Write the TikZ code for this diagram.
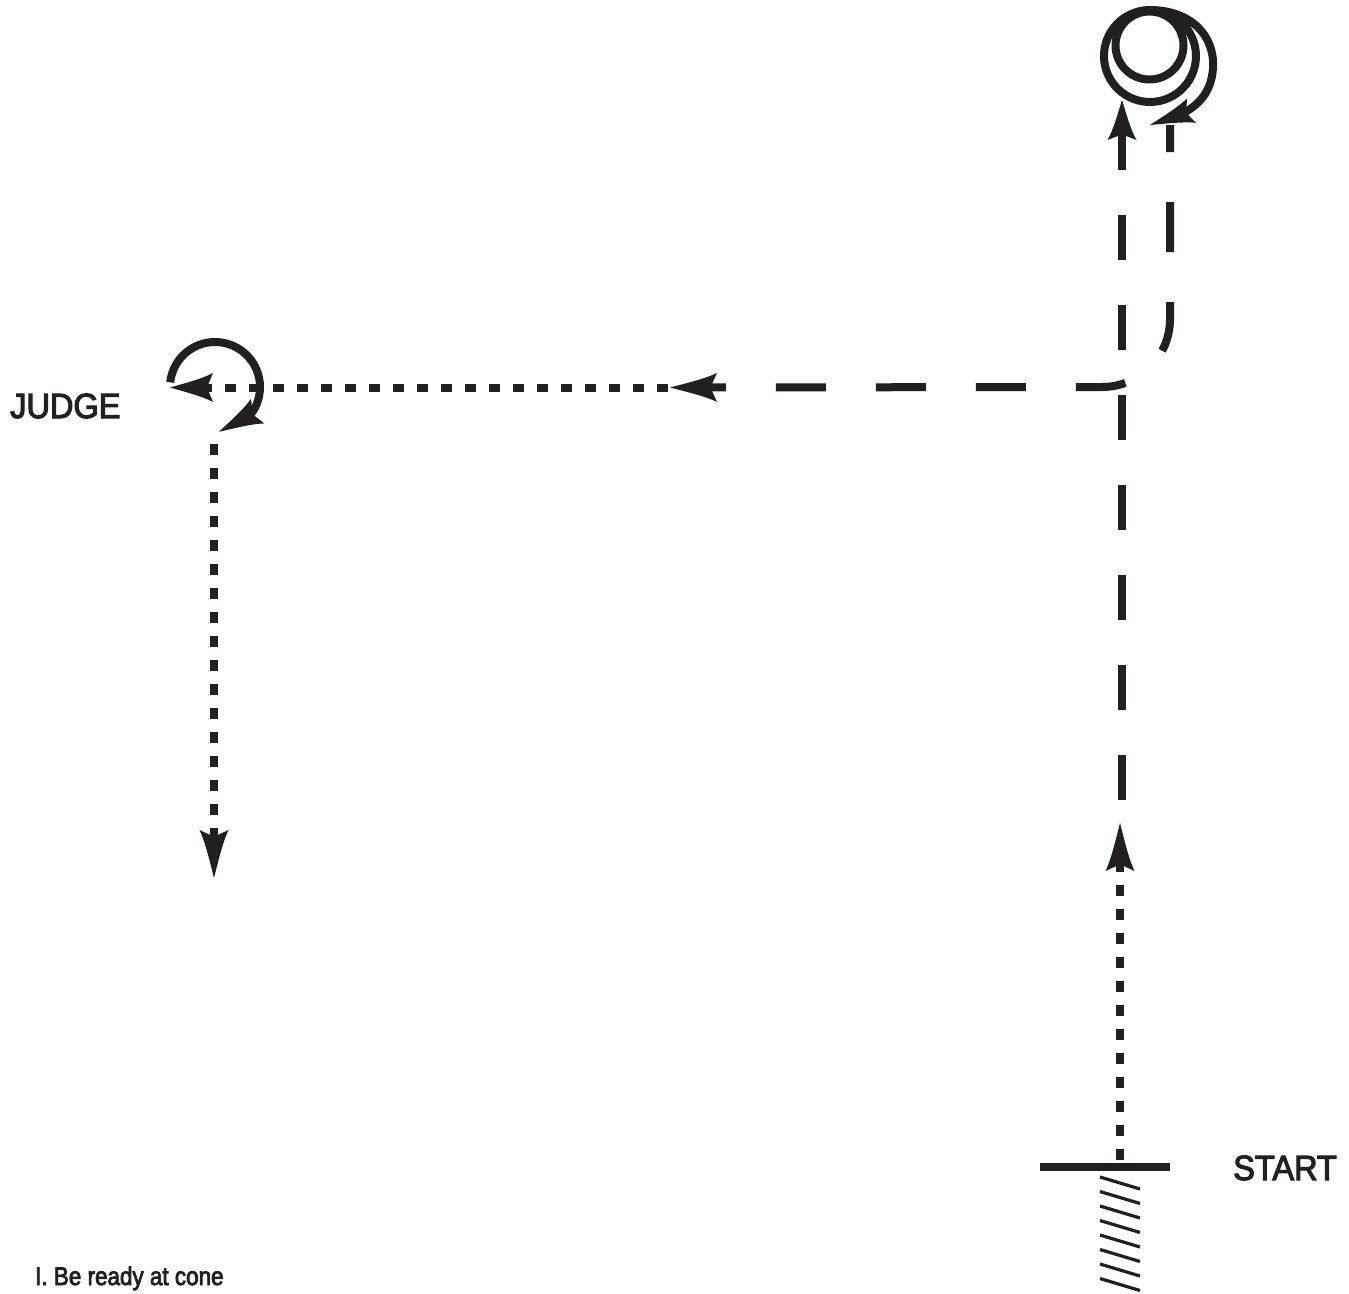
\documentclass[tikz,border=0pt]{standalone}
\usepackage{fontspec}
\setmainfont{Liberation Sans}[FakeStretch=0.93,FakeBold=3]
\newfontfamily\capfont{Liberation Sans}[FakeStretch=0.88,FakeBold=3]
\usetikzlibrary{arrows.meta,bending}
\definecolor{ink}{HTML}{231F20}
\pgfdeclarearrow{
  name = Fletch,
  parameters = {\the\pgfarrowlength,\the\pgfarrowwidth},
  setup code = {
    \pgfarrowssettipend{0pt}
    \pgfarrowssetlineend{-.7\pgfarrowlength}
    \pgfarrowssetvisualbackend{-.85\pgfarrowlength}
    \pgfarrowssetbackend{-\pgfarrowlength}
    \pgfarrowshullpoint{0pt}{0pt}
    \pgfarrowsupperhullpoint{-\pgfarrowlength}{.5\pgfarrowwidth}
  },
  drawing code = {
    \pgfpathmoveto{\pgfpointorigin}
    \pgfpathcurveto{\pgfpoint{-.35\pgfarrowlength}{.15\pgfarrowwidth}}{\pgfpoint{-.75\pgfarrowlength}{.3\pgfarrowwidth}}{\pgfpoint{-\pgfarrowlength}{.5\pgfarrowwidth}}
    \pgfpathlineto{\pgfpoint{-.86\pgfarrowlength}{0pt}}
    \pgfpathlineto{\pgfpoint{-\pgfarrowlength}{-.5\pgfarrowwidth}}
    \pgfpathcurveto{\pgfpoint{-.75\pgfarrowlength}{-.3\pgfarrowwidth}}{\pgfpoint{-.35\pgfarrowlength}{-.15\pgfarrowwidth}}{\pgfpointorigin}
    \pgfpathclose
    \pgfusepathqfill
  },
  defaults = {length = 45pt, width = 28pt}
}
\tikzset{
  heavy/.style={draw=ink, line width=8pt},
  dotline/.style={heavy, dash pattern=on 11pt off 13pt},
  dashline/.style={heavy, dash pattern=on 45pt off 45pt},
  longdash/.style={heavy, dash pattern=on 50pt off 50pt, dash phase=23pt},
  hatchline/.style={draw=ink, line width=3.2pt},
  tip/.style={-{Fletch[length=#1, width=29pt]}},
  lbl/.style={text=ink, inner sep=0pt, anchor=base west},
}
\begin{document}
\begin{tikzpicture}[x=1pt,y=-1pt]
\useasboundingbox (0,0) rectangle (1349,1293);
% named points
\coordinate (barL) at (1040,1167);
\coordinate (barR) at (1170,1167);
\coordinate (startC) at (1120,1160);
\coordinate (dotTip) at (1120,823);
\coordinate (dashBot) at (1122,800);
\coordinate (dashTip) at (1122,100);
\coordinate (cone) at (1149.5,45.5);
\coordinate (spiralS) at (1125.6,95);
\coordinate (spiralE) at (1150,125);
\coordinate (retTop) at (1170,125);
\coordinate (retTurn) at (1170,319);
\coordinate (hzTip) at (670,387.5);
\coordinate (hdotS) at (668,387.5);
\coordinate (judgeTip) at (170,387.5);
\coordinate (jArcS) at (170.25,382.3);
\coordinate (downS) at (214,444);
\coordinate (downTip) at (214,878);

% start bar and hatch
\draw[draw=ink, line width=7.5pt] (barL) -- (barR);
\foreach \k in {0,...,7}{
  \draw[hatchline] (1100,1177+14.5*\k) -- (1140,1189+14.5*\k);
}

% dotted from start up
\draw[dotline, tip=48pt] (startC) -- (dotTip);
% long dashed up to cone
\draw[dashline, -{Fletch[length=40pt,width=29pt]}] (dashBot) -- (dashTip);

% cone
\draw[heavy] (cone) circle[radius=34];
% spiral around cone
\draw[heavy, -{Fletch[length=44pt,width=26pt]}] (spiralS)
  arc[start angle=122, end angle=630, radius=46]
  .. controls (1190,10) and (1215,35) .. (1213,68)
  .. controls (1211,98) and (1192,115) .. (spiralE);

% return dashed line with corner
\draw[longdash, tip=47pt] (retTop) -- (retTurn)
  arc[start angle=0, end angle=90, radius=68] -- (hzTip);

% dotted to judge
\draw[dotline, tip=43pt] (hdotS) -- (judgeTip);
% judge circle
\draw[heavy, -{Fletch[length=44pt,width=28pt]}] (jArcS)
  arc[start angle=186, end angle=445, radius=45];
% dotted down
\draw[dotline, tip=48pt] (downS) -- (downTip);

% labels
\node[lbl, font=\fontsize{35}{42}\selectfont] (judge) at (10,418) {JUDGE};
\node[lbl, font=\fontsize{35}{42}\selectfont] (start) at (1233,1180) {START};
\node[lbl, font=\capfont\fontsize{25.5}{30}\selectfont] (cap) at (35,1285) {I. Be ready at cone};
\end{tikzpicture}
\end{document}
